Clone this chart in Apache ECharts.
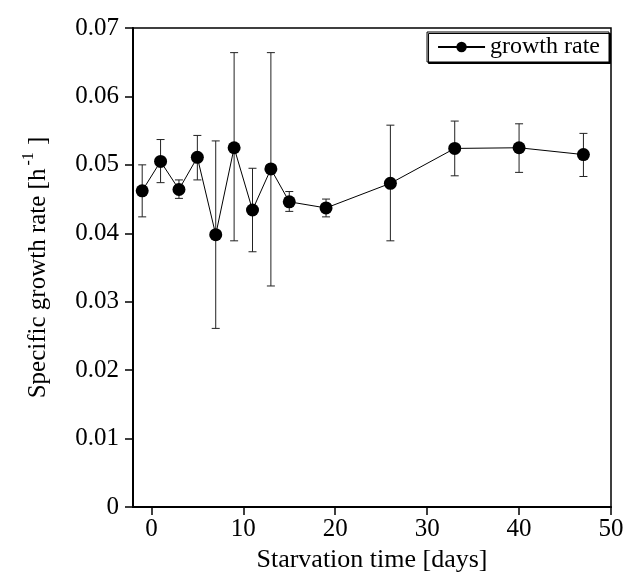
<!DOCTYPE html>
<html>
<head>
<meta charset="utf-8">
<script src="https://cdn.jsdelivr.net/npm/echarts@6/dist/echarts.min.js"></script>
<style>html,body{margin:0;padding:0;background:#fff}#c{width:624px;height:574px}</style>
</head>
<body>
<div id="c"></div>
<script>
var days = [-1, 1, 3, 5, 7, 9, 11, 13, 15, 19, 26, 33, 40, 47];
var rate = [0.0462, 0.0505, 0.0464, 0.0511, 0.0398, 0.0525, 0.0434, 0.0494, 0.0446, 0.0437, 0.0473, 0.0524, 0.0525, 0.0515];
var errLow = [0.0424, 0.0474, 0.0451, 0.0478, 0.0261, 0.0389, 0.0373, 0.0323, 0.0432, 0.0424, 0.0389, 0.0484, 0.0489, 0.0483];
var errHigh = [0.0500, 0.0537, 0.0478, 0.0543, 0.0535, 0.0664, 0.0495, 0.0664, 0.0461, 0.0450, 0.0558, 0.0564, 0.0560, 0.0546];
var xTicks = [0, 10, 20, 30, 40, 50];
var seriesName = 'growth rate';

var FONT = '"Liberation Serif", "Times New Roman", serif';
var chart = echarts.init(document.getElementById('c'));
var lineData = days.map(function (d, i) { return [d, rate[i]]; });
var errData = days.map(function (d, i) { return [d, errLow[i], errHigh[i]]; });

chart.setOption({
  animation: false,
  backgroundColor: '#fff',
  grid: { left: 133, right: 13, top: 28, bottom: 67, outerBoundsMode: 'none', containLabel: false, show: true, borderColor: '#000', borderWidth: 1.5, backgroundColor: 'transparent' },
  legend: {
    data: [seriesName],
    right: 15, top: 32,
    borderColor: '#000', borderWidth: 1,
    padding: [3, 9, 3, 10],
    itemWidth: 47, itemHeight: 13,
    shadowColor: '#000', shadowOffsetX: 1.5, shadowOffsetY: 1.5, shadowBlur: 0,
    backgroundColor: '#fff',
    textStyle: { fontFamily: FONT, fontSize: 24, color: '#000' }
  },
  xAxis: {
    type: 'value', min: -2, max: 50,
    name: 'Starvation time [days]', nameLocation: 'middle', nameGap: 36,
    nameTextStyle: { fontFamily: FONT, fontSize: 26, color: '#000' },
    axisLine: { onZero: false, lineStyle: { color: '#000', width: 2 } },
    axisTick: { show: true, length: 8, inside: false, customValues: xTicks, lineStyle: { color: '#000', width: 1.5 } },
    axisLabel: { customValues: xTicks, fontFamily: FONT, fontSize: 25, color: '#000', margin: 10 },
    splitLine: { show: false }
  },
  yAxis: {
    type: 'value', min: 0, max: 0.07, interval: 0.01,
    name: '{a|Specific growth rate [h}{s|-1}{a| ]}', nameLocation: 'middle', nameGap: 82,
    nameTextStyle: {
      fontFamily: FONT, fontSize: 25, color: '#000',
      rich: {
        a: { fontFamily: FONT, fontSize: 25, color: '#000', lineHeight: 30, verticalAlign: 'bottom' },
        s: { fontFamily: FONT, fontSize: 16, color: '#000', lineHeight: 30, verticalAlign: 'top', padding: [0, 1, 0, 3] }
      }
    },
    axisLine: { show: true, onZero: false, lineStyle: { color: '#000', width: 2 } },
    axisTick: { show: true, length: 8, inside: false, lineStyle: { color: '#000', width: 1.5 } },
    axisLabel: { fontFamily: FONT, fontSize: 25, color: '#000', margin: 14, formatter: function (v) { return v === 0 ? '0' : v.toFixed(2); } },
    splitLine: { show: false }
  },
  series: [
    {
      type: 'custom',
      name: 'err',
      data: errData,
      z: 1,
      renderItem: function (params, api) {
        var x = api.value(0);
        var lo = api.coord([x, api.value(1)]);
        var hi = api.coord([x, api.value(2)]);
        var w = 4;
        var st = { stroke: '#222', lineWidth: 1 };
        return {
          type: 'group',
          children: [
            { type: 'line', shape: { x1: lo[0], y1: lo[1], x2: hi[0], y2: hi[1] }, style: st },
            { type: 'line', shape: { x1: lo[0] - w, y1: lo[1], x2: lo[0] + w, y2: lo[1] }, style: st },
            { type: 'line', shape: { x1: hi[0] - w, y1: hi[1], x2: hi[0] + w, y2: hi[1] }, style: st }
          ]
        };
      }
    },
    {
      type: 'line',
      name: seriesName,
      data: lineData,
      z: 3,
      symbol: 'circle', symbolSize: 13,
      itemStyle: { color: '#000' },
      lineStyle: { color: '#000', width: 1 }
    }
  ]
});
</script>
</body>
</html>
